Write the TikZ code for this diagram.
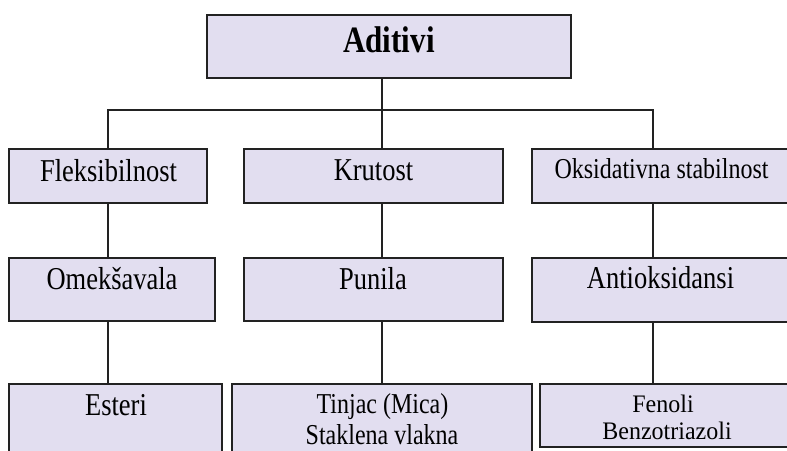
\documentclass[tikz,border=0pt]{standalone}
\usepackage{fontspec}
\setmainfont{Liberation Serif}
\usetikzlibrary{shadows}
\definecolor{boxfill}{RGB}{226,222,240}
\definecolor{edge}{RGB}{34,34,34}
\newcommand\vtxt[3][1.2]{\fontsize{#2}{#2}\selectfont\scalebox{1}[#1]{#3}}
\begin{document}
\begin{tikzpicture}[x=1pt,y=-1pt,
  box/.style={draw=edge, line width=1.6pt, fill=boxfill, inner sep=0pt, outer sep=0pt,
    drop shadow={shadow xshift=1.2pt, shadow yshift=-1.2pt, fill=black!45, opacity=1}},
  conn/.style={draw=edge, line width=1.6pt},
  lbl/.style={anchor=base, inner sep=0pt, text=black}]
\useasboundingbox (0,0) rectangle (787,450);
% connector axes
\coordinate (cL) at (108,110);
\coordinate (cM) at (382,110);
\coordinate (cR) at (653,110);
% boxes
\node[box, minimum width=364pt, minimum height=63pt] (top) at (389,46.5) {};
\node[box, minimum width=198pt, minimum height=54pt] (flex) at (108,176) {};
\node[box, minimum width=259pt, minimum height=54pt] (krut) at (373.5,176) {};
\node[box, minimum width=260pt, minimum height=54pt] (oks) at (662,176) {};
\node[box, minimum width=206pt, minimum height=63pt] (omek) at (112,289.5) {};
\node[box, minimum width=259pt, minimum height=63pt] (puni) at (373.5,289.5) {};
\node[box, minimum width=260pt, minimum height=64pt] (anti) at (662,290) {};
\node[box, minimum width=213pt, minimum height=76pt] (este) at (115.5,422) {};
\node[box, minimum width=300pt, minimum height=76pt] (tinj) at (382,422) {};
\node[box, minimum width=252pt, minimum height=63pt] (feno) at (666,415.5) {};
% connectors
\draw[conn] (top.south -| cM) -- (krut.north -| cM);
\draw[conn] (flex.north -| cL) -- (cL) -- (cR) -- (oks.north -| cR);
\draw[conn] (flex.south -| cL) -- (omek.north -| cL);
\draw[conn] (krut.south -| cM) -- (puni.north -| cM);
\draw[conn] (oks.south -| cR) -- (anti.north -| cR);
\draw[conn] (omek.south -| cL) -- (este.north -| cL);
\draw[conn] (puni.south -| cM) -- (tinj.north -| cM);
\draw[conn] (anti.south -| cR) -- (feno.north -| cR);
% labels
\node[lbl] (tTop) at (389,52) {\vtxt{31}{\bfseries Aditivi}};
\node[lbl] (tFlex) at (108.5,181) {\vtxt{26.5}{Fleksibilnost}};
\node[lbl] (tKrut) at (373.5,180) {\vtxt{26.5}{Krutost}};
\node[lbl] (tOks) at (661.5,178) {\vtxt{24}{Oksidativna stabilnost}};
\node[lbl] (tOmek) at (112,289) {\vtxt{26.5}{Omekšavala}};
\node[lbl] (tPuni) at (373,289) {\vtxt{26.5}{Punila}};
\node[lbl] (tAnti) at (660.5,288) {\vtxt{26.5}{Antioksidansi}};
\node[lbl] (tEste) at (116,415) {\vtxt{26.5}{Esteri}};
\node[lbl] (tTin1) at (382.5,413) {\vtxt{24}{Tinjac (Mica)}};
\node[lbl] (tTin2) at (382,444) {\vtxt{24}{Staklena vlakna}};
\node[lbl] (tFen1) at (663,412) {\vtxt[1.05]{24}{Fenoli}};
\node[lbl] (tFen2) at (667,439) {\vtxt[1.05]{24}{Benzotriazoli}};
\end{tikzpicture}
\end{document}
